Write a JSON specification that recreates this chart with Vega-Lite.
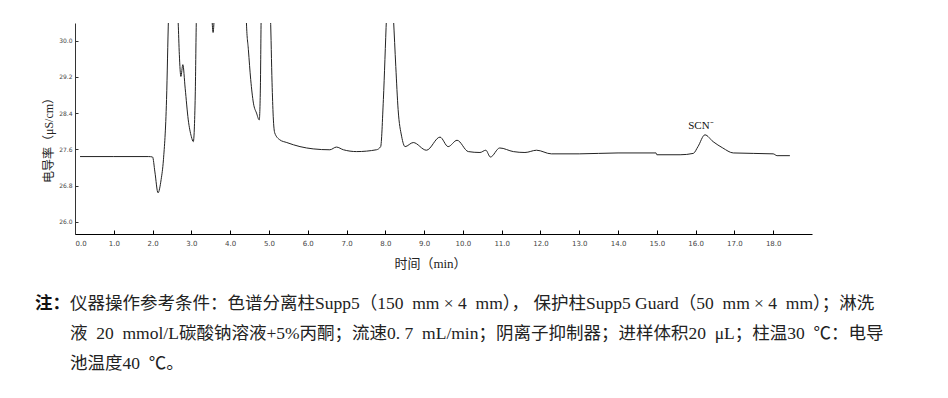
{
  "$schema": "https://vega.github.io/schema/vega-lite/v6.json",
  "width": 737,
  "height": 211,
  "autosize": {"type": "none"},
  "padding": {"left": 75, "top": 23, "right": 136, "bottom": 164},
  "background": "#ffffff",
  "config": {
    "view": {"stroke": null},
    "font": "Liberation Serif, Noto Sans CJK SC"
  },
  "title": {
    "text": "注：",
    "subtitle": [
      "\u200b\u3000\u3000仪器操作参考条件：色谱分离柱Supp5（150\u00a0 mm\u00a0×\u00a04\u00a0 mm），\u00a0保护柱Supp5 Guard（50\u00a0 mm\u00a0×\u00a04\u00a0 mm）；淋洗",
      "\u200b\u3000\u3000液\u00a0 20\u00a0 mmol/L碳酸钠溶液+5%丙酮；流速0.\u00a07\u00a0 mL/min；阴离子抑制器；进样体积20\u00a0 μL；柱温30\u00a0 ℃：电导",
      "\u200b\u3000\u3000池温度40\u00a0 ℃。"
    ],
    "orient": "bottom",
    "anchor": "start",
    "align": "left",
    "frame": "group",
    "dx": -40,
    "offset": 25,
    "font": "Liberation Serif, Noto Sans CJK SC",
    "fontSize": 17.5,
    "fontWeight": "bold",
    "color": "#111111",
    "subtitleFont": "Liberation Serif, Noto Sans CJK SC",
    "subtitleFontSize": 17.5,
    "subtitleColor": "#222222",
    "subtitleLineHeight": 30,
    "subtitlePadding": -17.5
  },
  "datasets": {
    "trace": [
      {"t": 0.13, "v": 27.44}, {"t": 1.0, "v": 27.44}, {"t": 1.9, "v": 27.44},
      {"t": 2.0, "v": 27.43}, {"t": 2.06, "v": 27.1}, {"t": 2.14, "v": 26.64},
      {"t": 2.22, "v": 26.93}, {"t": 2.28, "v": 27.37}, {"t": 2.36, "v": 28.7},
      {"t": 2.41, "v": 30.5}, {"t": 2.5, "v": 32.0}, {"t": 2.62, "v": 31.0},
      {"t": 2.66, "v": 30.4}, {"t": 2.69, "v": 29.69}, {"t": 2.73, "v": 29.21},
      {"t": 2.78, "v": 29.47}, {"t": 2.84, "v": 28.95}, {"t": 2.92, "v": 28.25},
      {"t": 3.0, "v": 27.88}, {"t": 3.05, "v": 27.77}, {"t": 3.1, "v": 28.8},
      {"t": 3.13, "v": 30.5}, {"t": 3.25, "v": 32.0}, {"t": 3.5, "v": 31.0},
      {"t": 3.56, "v": 30.18}, {"t": 3.62, "v": 31.0}, {"t": 4.0, "v": 32.0},
      {"t": 4.4, "v": 31.0}, {"t": 4.42, "v": 30.39}, {"t": 4.47, "v": 29.8},
      {"t": 4.53, "v": 29.14}, {"t": 4.6, "v": 28.62}, {"t": 4.68, "v": 28.4},
      {"t": 4.75, "v": 28.25}, {"t": 4.78, "v": 29.0}, {"t": 4.8, "v": 30.5},
      {"t": 4.92, "v": 32.0}, {"t": 5.04, "v": 30.5}, {"t": 5.08, "v": 29.07},
      {"t": 5.11, "v": 28.33}, {"t": 5.15, "v": 27.96}, {"t": 5.28, "v": 27.81},
      {"t": 5.46, "v": 27.75}, {"t": 5.8, "v": 27.66}, {"t": 6.14, "v": 27.61},
      {"t": 6.57, "v": 27.59}, {"t": 6.74, "v": 27.65}, {"t": 6.92, "v": 27.59},
      {"t": 7.26, "v": 27.55}, {"t": 7.77, "v": 27.59}, {"t": 7.88, "v": 27.66},
      {"t": 7.95, "v": 28.7}, {"t": 8.03, "v": 30.5}, {"t": 8.12, "v": 32.0},
      {"t": 8.21, "v": 30.5}, {"t": 8.27, "v": 29.43}, {"t": 8.33, "v": 28.48},
      {"t": 8.42, "v": 27.89}, {"t": 8.51, "v": 27.66}, {"t": 8.72, "v": 27.75},
      {"t": 9.06, "v": 27.58}, {"t": 9.41, "v": 27.87}, {"t": 9.62, "v": 27.66},
      {"t": 9.85, "v": 27.8}, {"t": 10.14, "v": 27.55}, {"t": 10.44, "v": 27.53},
      {"t": 10.59, "v": 27.58}, {"t": 10.71, "v": 27.43}, {"t": 10.95, "v": 27.63},
      {"t": 11.3, "v": 27.55}, {"t": 11.6, "v": 27.53}, {"t": 11.9, "v": 27.58},
      {"t": 12.28, "v": 27.5}, {"t": 13.0, "v": 27.5}, {"t": 14.0, "v": 27.52},
      {"t": 14.98, "v": 27.52}, {"t": 15.0, "v": 27.48}, {"t": 15.6, "v": 27.48},
      {"t": 15.94, "v": 27.51}, {"t": 16.06, "v": 27.66}, {"t": 16.24, "v": 27.92},
      {"t": 16.45, "v": 27.77}, {"t": 16.7, "v": 27.63}, {"t": 16.97, "v": 27.52},
      {"t": 18.0, "v": 27.5}, {"t": 18.1, "v": 27.46}, {"t": 18.43, "v": 27.46}
    ],
    "labels": [
      {"t": 16.24, "v": 27.92, "label": "SCN⁻"}
    ]
  },
  "layer": [
    {
      "data": {"name": "trace"},
      "mark": {"type": "line", "color": "#222222", "strokeWidth": 1, "clip": true, "interpolate": "monotone"},
      "encoding": {
        "x": {
          "field": "t",
          "type": "quantitative",
          "scale": {"domain": [0, 19], "nice": false, "zero": false},
          "axis": {
            "values": [0, 1, 2, 3, 4, 5, 6, 7, 8, 9, 10, 11, 12, 13, 14, 15, 16, 17, 18],
            "format": ".1f",
            "grid": false,
            "tickSize": -4,
            "labelPadding": 9,
            "labelFontSize": 7,
            "labelColor": "#444444",
            "labelFont": "DejaVu Sans",
            "domainColor": "#000000",
            "domainWidth": 1.2,
            "tickColor": "#000000",
            "title": "时间（min）",
            "titleFontSize": 13,
            "titleFontWeight": "normal",
            "titleColor": "#222222",
            "titleX": 355,
            "titleY": 29,
            "titleBaseline": "middle",
            "titleAlign": "center"
          }
        },
        "y": {
          "field": "v",
          "type": "quantitative",
          "scale": {"domain": [25.73, 30.39], "nice": false, "zero": false},
          "axis": {
            "values": [26.0, 26.4, 26.8, 27.2, 27.6, 28.0, 28.4, 28.8, 29.2, 29.6, 30.0],
            "format": ".1f",
            "grid": false,
            "tickSize": -3,
            "labelPadding": 6,
            "labelFontSize": 6,
            "labelColor": "#444444",
            "labelFont": "DejaVu Sans",
            "domainColor": "#333333",
            "tickColor": "#333333",
            "title": "电导率（μS/cm）",
            "titleFontSize": 12,
            "titleFontWeight": "normal",
            "titleColor": "#222222",
            "titleX": -27,
            "titleY": 114,
            "titleAngle": -90,
            "titleBaseline": "middle",
            "titleAlign": "center"
          }
        }
      }
    },
    {
      "data": {"name": "labels"},
      "mark": {"type": "text", "fontSize": 11, "color": "#111111", "baseline": "bottom", "dy": -4, "dx": -4, "font": "Liberation Serif"},
      "encoding": {
        "x": {"field": "t", "type": "quantitative"},
        "y": {"field": "v", "type": "quantitative"},
        "text": {"field": "label"}
      }
    }
  ]
}
